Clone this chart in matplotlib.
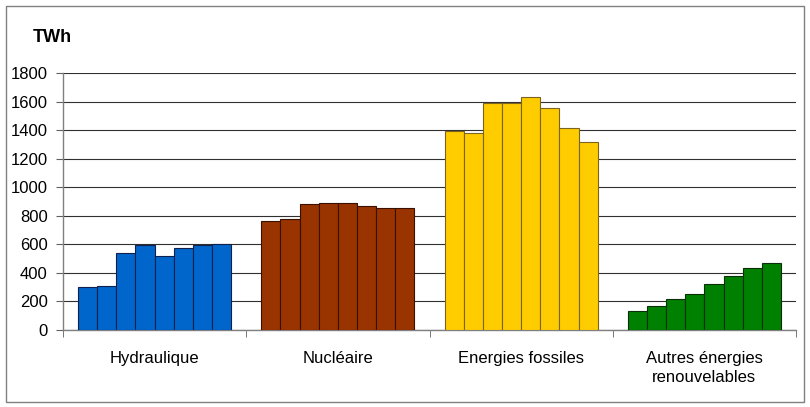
import numpy as np
import matplotlib.pyplot as plt
from matplotlib.patches import Rectangle

plt.rcParams['font.family'] = ['Liberation Sans', 'DejaVu Sans']

categories = ['Hydraulique', 'Nucléaire', 'Energies fossiles', 'Autres énergies\nrenouvelables']
hydraulique = [300, 310, 540, 595, 520, 572, 595, 605]
nucleaire = [762, 775, 880, 892, 887, 866, 857, 857]
fossiles = [1395, 1380, 1590, 1592, 1632, 1558, 1418, 1318]
autres = [135, 170, 220, 255, 320, 380, 432, 468]

series = [hydraulique, nucleaire, fossiles, autres]
colors = ['#0066CC', '#993300', '#FFCC00', '#008000']
edges = ['#10204a', '#3a1000', '#7a6420', '#0a300a']

fig = plt.figure(figsize=(8.1, 4.07), dpi=100)
ax = fig.add_axes([63/810, 77/407, 733/810, 257/407])

n = 8
total = 0.835
w = total / n
for i, vals in enumerate(series):
    x = i + 0.5 - total/2 + w/2 + np.arange(n)*w
    ax.bar(x, vals, width=w, color=colors[i], edgecolor=edges[i], linewidth=0.8, zorder=3)

ax.set_xlim(0, 4)
ax.set_ylim(0, 1800)
ax.set_yticks(np.arange(0, 1801, 200))
ax.yaxis.grid(True, color='#303030', linewidth=0.8, zorder=0)
ax.set_xticks([0.5, 1.5, 2.5, 3.5])
ax.set_xticklabels(categories, linespacing=1.35)
ax.set_xticks([0, 1, 2, 3, 4], minor=True)
ax.tick_params(axis='x', which='major', length=0, pad=15, labelsize=12)
ax.tick_params(axis='x', which='minor', length=5, color='#606060', direction='out')
ax.tick_params(axis='y', length=5, color='#606060', pad=6, labelsize=12)

for s in ['top', 'right']:
    ax.spines[s].set_visible(False)
for s in ['left', 'bottom']:
    ax.spines[s].set_color('#808080')
    ax.spines[s].set_linewidth(1)

fig.text(33/810, 1 - 37/407, 'TWh', fontsize=13, fontweight='bold', va='center', ha='left')

fig.patches.append(Rectangle((6/810, 5/407), 798/810, 396/407, transform=fig.transFigure,
                             fill=False, edgecolor='#808080', linewidth=1))

fig.savefig('out.png', dpi=100)
